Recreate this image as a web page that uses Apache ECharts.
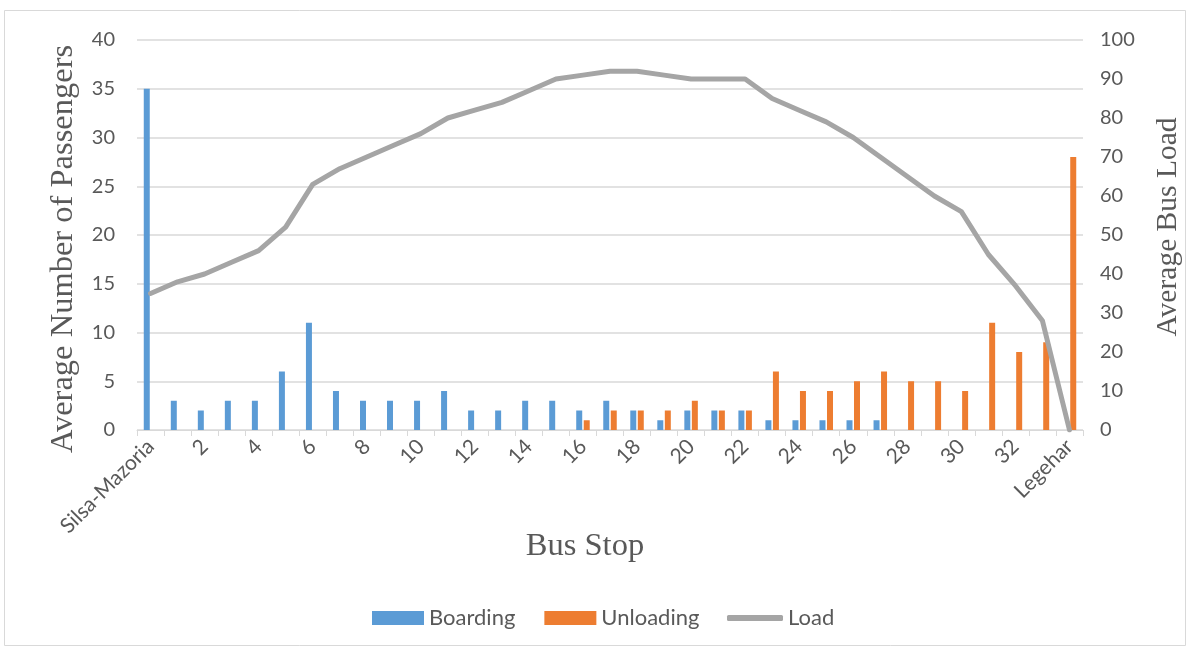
<!DOCTYPE html>
<html>
<head>
<meta charset="utf-8">
<script src="https://cdn.jsdelivr.net/npm/echarts@6/dist/echarts.min.js"></script>
<style>
  html, body { margin: 0; padding: 0; background: #fff; }
  #chart { width: 1191px; height: 650px; }
</style>
</head>
<body>
<div id="chart"></div>
<script>
// Bus stops along the route, first and last named
const stops = ['Silsa-Mazoria', '1', '2', '3', '4', '5', '6', '7', '8', '9', '10', '11', '12',
  '13', '14', '15', '16', '17', '18', '19', '20', '21', '22', '23', '24', '25', '26', '27',
  '28', '29', '30', '31', '32', '33', 'Legehar'];

// Average passengers boarding at each stop
const boarding = [35, 3, 2, 3, 3, 6, 11, 4, 3, 3, 3, 4, 2, 2, 3, 3, 2, 3, 2, 1, 2, 2, 2,
  1, 1, 1, 1, 1, 0, 0, 0, 0, 0, 0, 0];

// Average passengers alighting at each stop
const unloading = [0, 0, 0, 0, 0, 0, 0, 0, 0, 0, 0, 0, 0, 0, 0, 0, 1, 2, 2, 2, 3, 2, 2,
  6, 4, 4, 5, 6, 5, 5, 4, 11, 8, 9, 28];

// Average on-board load after each stop
const load = [35, 38, 40, 43, 46, 52, 63, 67, 70, 73, 76, 80, 82, 84, 87, 90, 91, 92, 92,
  91, 90, 90, 90, 85, 82, 79, 75, 70, 65, 60, 56, 45, 37, 28, 0];

const labelFont = 'Lato, "Open Sans", sans-serif';
const titleFont = '"Liberation Serif", "DejaVu Serif", serif';
const textGray = '#595959';
const lineGray = '#D9D9D9';

const chart = echarts.init(document.getElementById('chart'), null, { renderer: 'canvas' });

const legendText = { fontFamily: labelFont, fontSize: 22, color: textGray };

chart.setOption({
  backgroundColor: '#ffffff',
  animation: false,
  graphic: [{
    type: 'rect',
    shape: { x: 4.5, y: 10.5, width: 1181, height: 635 },
    style: { fill: 'none', stroke: lineGray, lineWidth: 1 },
    silent: true
  }],
  grid: { left: 137, right: 103, top: 40, bottom: 220 },
  legend: [{
    // bar entries
    left: 367,
    top: 602,
    itemWidth: 52,
    itemHeight: 14,
    itemGap: 29,
    icon: 'rect',
    textStyle: legendText,
    data: ['Boarding', 'Unloading']
  }, {
    // line entry
    left: 722,
    top: 602,
    itemWidth: 56,
    itemHeight: 6,
    icon: 'roundRect',
    textStyle: legendText,
    data: ['Load']
  }],
  xAxis: {
    type: 'category',
    data: stops,
    boundaryGap: true,
    name: 'Bus Stop',
    nameLocation: 'middle',
    nameGap: 100,
    nameMoveOverlap: false,
    nameTextStyle: {
      fontFamily: titleFont, fontSize: 32.5, color: textGray,
      padding: [0, 50, 0, 0]
    },
    axisLine: { lineStyle: { color: lineGray, width: 1 } },
    axisTick: { show: true, interval: 0, length: 6, lineStyle: { color: lineGray } },
    axisLabel: {
      interval: 1,
      rotate: 45,
      margin: 13,
      fontFamily: labelFont,
      fontSize: 21,
      color: textGray
    }
  },
  yAxis: [{
    type: 'value',
    min: 0,
    max: 40,
    interval: 5,
    name: 'Average Number of Passengers',
    nameLocation: 'middle',
    nameGap: 57,
    nameRotate: 90,
    nameTextStyle: {
      fontFamily: titleFont, fontSize: 32.5, color: textGray,
      padding: [0, 28, 0, 0]
    },
    axisLine: { show: false },
    axisTick: { show: false },
    axisLabel: { margin: 22, fontFamily: labelFont, fontSize: 20, color: textGray },
    splitLine: { show: true, lineStyle: { color: lineGray, width: 1.5 } }
  }, {
    type: 'value',
    min: 0,
    max: 100,
    interval: 10,
    position: 'right',
    name: 'Average Bus Load',
    nameLocation: 'middle',
    nameGap: 70,
    nameRotate: 90,
    nameTextStyle: {
      fontFamily: titleFont, fontSize: 29.5, color: textGray,
      padding: [0, 0, 0, 16]
    },
    axisLine: { show: false },
    axisTick: { show: false },
    axisLabel: { margin: 17, fontFamily: labelFont, fontSize: 20, color: textGray },
    splitLine: { show: false }
  }],
  series: [{
    name: 'Boarding',
    type: 'bar',
    yAxisIndex: 0,
    data: boarding,
    barWidth: 6,
    barGap: '25%',
    itemStyle: { color: '#5B9BD5' }
  }, {
    name: 'Unloading',
    type: 'bar',
    yAxisIndex: 0,
    data: unloading,
    barWidth: 6,
    barGap: '25%',
    itemStyle: { color: '#ED7D31' }
  }, {
    name: 'Load',
    type: 'line',
    yAxisIndex: 1,
    data: load,
    symbol: 'none',
    smooth: false,
    z: 5,
    lineStyle: { color: '#A5A5A5', width: 5, cap: 'round', join: 'round' },
    itemStyle: { color: '#A5A5A5' }
  }]
});
</script>
</body>
</html>
